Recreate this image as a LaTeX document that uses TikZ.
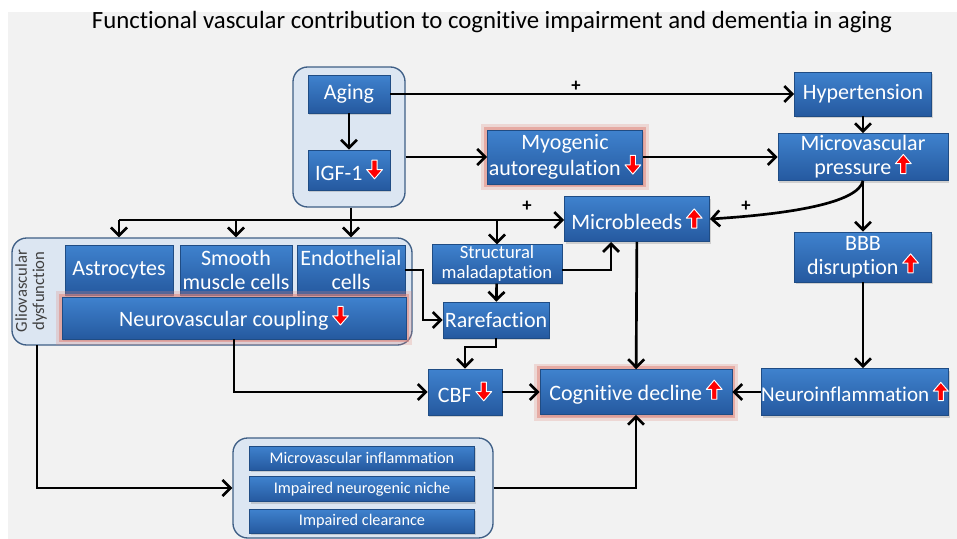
\documentclass[tikz,border=0pt]{standalone}
\usepackage{fontspec}
\setmainfont{Carlito}[Ligatures=NoCommon]
\usepackage{tikz}
\usetikzlibrary{arrows.meta, shadows}

\definecolor{bgcol}{HTML}{F2F2F2}
\definecolor{boxtop}{HTML}{3F82CE}
\definecolor{boxbot}{HTML}{25599F}
\definecolor{boxedge}{HTML}{1F4C84}
\definecolor{grpfill}{HTML}{DCE6F2}
\definecolor{grpedge}{HTML}{3F5F86}
\definecolor{glowcol}{HTML}{E2877E}

% small red block arrows used inside the boxes
\newcommand{\dnarr}{\,\tikz[baseline=-1pt, x=1em, y=1em]
  \filldraw[fill=red, draw=white, line width=0.7pt, line join=round]
    (-0.12,0.85) -- (0.12,0.85) -- (0.12,0.42) -- (0.36,0.42) -- (0,0) -- (-0.36,0.42) -- (-0.12,0.42) -- cycle;}
\newcommand{\uparr}{\,\tikz[baseline=-1pt, x=1em, y=1em]
  \filldraw[fill=red, draw=white, line width=0.7pt, line join=round]
    (-0.12,0) -- (0.12,0) -- (0.12,0.45) -- (0.36,0.45) -- (0,0.87) -- (-0.36,0.45) -- (-0.12,0.45) -- cycle;}

\begin{document}
\begin{tikzpicture}[x=0.75pt, y=-0.75pt,
    box/.style={draw=boxedge, line width=0.5pt, top color=boxtop, bottom color=boxbot,
      text=white, align=center, inner sep=1pt, font=\fontsize{16.5}{18}\selectfont,
      drop shadow={shadow xshift=1pt, shadow yshift=-1.5pt, opacity=0.3}},
    smallbox/.style={box, font=\fontsize{12.2}{14}\selectfont},
    sz/.style 2 args={minimum width=#1*0.75pt, minimum height=#2*0.75pt},
    glow/.style={preaction={draw=glowcol, line width=9pt, opacity=0.25},
      preaction={draw=glowcol, line width=5pt, opacity=0.55}},
    grp/.style={draw=grpedge, fill=grpfill, line width=1pt, rounded corners=11pt, inner sep=0pt},
    arr/.style={line width=2pt, -{Straight Barb[length=6pt, width=12pt]}},
    plus/.style={font=\fontsize{14}{14}\selectfont\bfseries, inner sep=1pt}]

    % background and frame
    \useasboundingbox (0,0) rectangle (957,539);
    \fill[bgcol] (8,12) rectangle (957,539);
    \node (title) at (492,22) {\fontsize{18.6}{20}\selectfont Functional vascular contribution to cognitive impairment and dementia in aging};

    % draw group containers
    \node[grp, sz={112}{140}] (agegrp) at (349,137) {};
    \node[grp, sz={400}{107}] (gliogrp) at (212,291.5) {};
    \node[grp, sz={260}{100}] (botgrp) at (363,488) {};
    \node[rotate=90, align=center, text=black!75, font=\fontsize{12.5}{13}\selectfont] (gliotxt) at (31,291) {Gliovascular\\dysfunction};

    % draw boxes
    \node[box, sz={82}{38}] (aging) at (349,94) {Aging};
    \node[box, sz={82}{40}] (igf) at (349,170) {IGF-1\dnarr};
    \node[box, sz={137}{44}] (hyper) at (863,94) {Hypertension};
    \node[box, glow, sz={145}{54}] (myo) at (565,157) {Myogenic\\autoregulation\dnarr};
    \node[box, sz={170}{47}] (mvp) at (863,157) {Microvascular\\pressure\uparr};
    \node[box, sz={145}{45}] (mbleeds) at (637,219) {Microbleeds\uparr};
    \node[box, sz={137}{50}] (bbb) at (863,257) {BBB\\disruption\uparr};

    \node[box, sz={108}{50}] (astro) at (119,270) {Astrocytes};
    \node[box, sz={112}{50}] (smc) at (236,270) {Smooth\\muscle cells};
    \node[box, sz={108}{50}] (endo) at (351,270) {Endothelial\\cells};
    \node[box, glow, sz={344}{42}] (nvc) at (234,318) {Neurovascular coupling\dnarr};

    \node[smallbox, font=\fontsize{14}{15}\selectfont, sz={130}{38}] (struct) at (497,264) {Structural\\maladaptation};
    \node[box, sz={106}{36}] (raref) at (496,320) {Rarefaction};
    \node[box, sz={74}{46}] (cbf) at (465,392) {CBF\dnarr};
    \node[box, glow, sz={192}{45}] (cogn) at (636,392) {Cognitive decline\uparr};
    \node[box, inner xsep=0pt, font=\fontsize{15.8}{18}\selectfont, sz={186}{47}] (neuroinf) at (855,392) {Neuroinflammation\uparr};

    \node[smallbox, sz={225}{24}] (mvinf) at (362,458) {Microvascular inflammation};
    \node[smallbox, sz={225}{25}] (niche) at (362,489) {Impaired neurogenic niche};
    \node[smallbox, sz={225}{24}] (clear) at (362,521) {Impaired clearance};

    % draw arrows of the upper part
    \draw[arr] (aging) -- (igf);
    \draw[arr] (aging) -- (hyper) node[plus, above, pos=0.46] {+};
    \draw[arr] (agegrp.east |- myo) -- (myo);
    \draw[arr] (myo) -- (mvp);
    \draw[arr] (hyper) -- (mvp);
    \draw[arr] (mvp) -- (bbb);
    \draw[arr] (bbb.south) -- (bbb.south |- neuroinf.north);
    \draw[arr] (mvp.south) .. controls (858,203) and (790,214) .. (mbleeds.east);
    \node[plus] at (746,206) {+};

    % draw the branching line below IGF-1
    \coordinate (trunk) at (351,220);
    \coordinate (tleft) at (119,220);
    \draw[line width=2pt] (agegrp.south -| trunk) -- (trunk);
    \draw[arr] (tleft) -- (tleft -| mbleeds.west);
    \node[plus] at (527,206) {+};
    \draw[arr] (tleft) -- (tleft |- gliogrp.north);
    \draw[arr] (trunk -| smc) -- (smc.north |- gliogrp.north);
    \draw[arr] (trunk) -- (trunk |- gliogrp.north);
    \draw[arr] (trunk -| struct) -- (struct);

    % draw arrows of the middle part
    \coordinate (ebend) at (423,270);
    \coordinate (rbend) at (496,347);
    \coordinate (mbin) at (611,242);
    \draw[arr] (struct) -- (raref);
    \draw[arr] ([yshift=-4.5pt]struct.east) -| (mbin);
    \draw[arr] (endo.east) -- (ebend) |- (raref);
    \draw[arr] (raref.south) -- (rbend) -| (cbf.north);
    \draw[arr] (nvc.south) |- (cbf);
    \draw[arr] (cbf) -- (cogn);
    \draw[arr] (neuroinf) -- (cogn);
    \draw[arr] (mbleeds) -- (cogn);

    % draw arrows of the lower part
    \coordinate (gout) at (37,345);
    \draw[arr] (gout) |- (botgrp.west);
    \draw[arr] (botgrp.east) -| (cogn.south);
\end{tikzpicture}
\end{document}
